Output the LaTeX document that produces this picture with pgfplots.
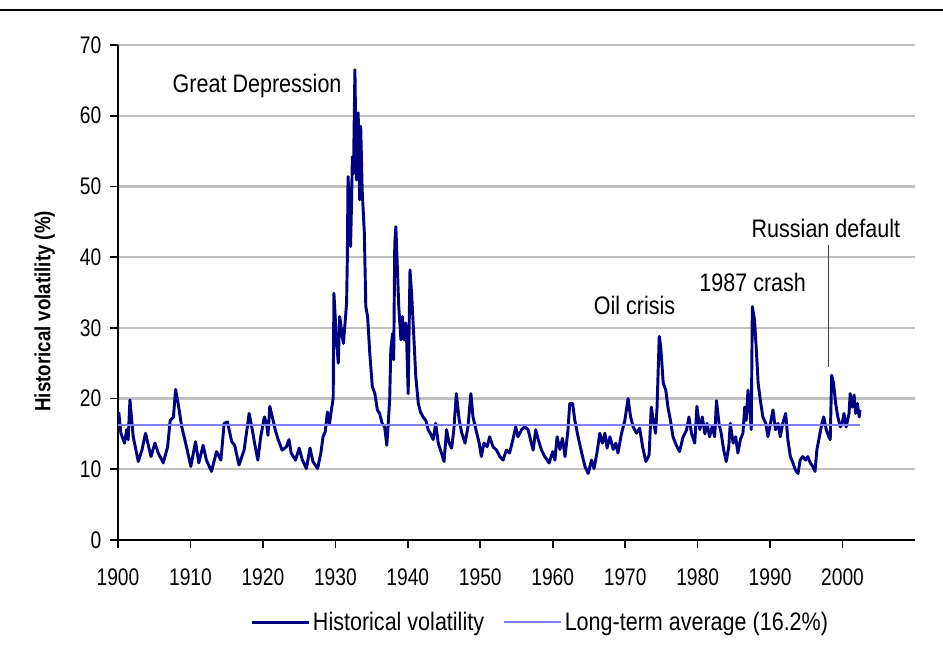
\documentclass[border=0pt]{standalone}
\usepackage{fontspec}
\setmainfont{Liberation Sans}[FakeStretch=0.85]
\newfontfamily\tickfam{Liberation Sans}[FakeStretch=0.8]
\usepackage{pgfplots}
\pgfplotsset{compat=1.18}
\definecolor{volnavy}{RGB}{0,0,128}
\definecolor{avgblue}{RGB}{128,128,255}
\definecolor{gridgray}{RGB}{192,192,192}
\newcommand{\tickfont}{\tickfam\fontsize{18pt}{20pt}\selectfont}
\newcommand{\annfont}{\fontsize{19pt}{22pt}\selectfont}
\newcommand{\labfont}{\fontsize{16.5pt}{19pt}\selectfont}

\begin{document}
\begin{tikzpicture}
\useasboundingbox (-88.5pt,-82.5pt) rectangle (618.75pt,405pt);
\draw[line width=1.5pt] (-88.5pt,397.5pt) -- (618.75pt,397.5pt);
\begin{axis}[
    scale only axis,
    width=597.75pt, height=371.25pt,
    at={(0,0)}, anchor=south west,
    xmin=1900, xmax=2010,
    ymin=0, ymax=70,
    xtick={1900,1910,...,2000},
    ytick={0,10,...,70},
    axis x line*=bottom, axis y line*=left,
    axis line style={-, line width=1.5pt, black},
    tick align=outside,
    major tick length=6pt,
    tick style={black, line width=1.2pt},
    ymajorgrids=true,
    grid style={gridgray, line width=1.8pt},
    /pgf/number format/assume math mode=true,
    x tick label style={font=\tickfont, /pgf/number format/1000 sep={}, yshift=-12pt},
    y tick label style={font=\tickfont, xshift=-3pt},
    ylabel={\bfseries Historical volatility (\%)},
    ylabel style={font=\labfont, at={(axis description cs:-0.092,0.462)}, anchor=center},
    clip=false,
    legend columns=2,
    legend style={
        draw=none, fill=none,
        at={(axis description cs:0.53,-0.166)}, anchor=center,
        font=\annfont,
        /tikz/every even column/.append style={column sep=12pt},
    },
    legend image code/.code={\draw[#1] (0pt,0pt) -- (43pt,0pt);},
]

% historical volatility
\addplot[volnavy, line width=2.2pt, line join=round] coordinates {
(1900.1,18.1)(1900.4,15.1)(1900.9,13.7)(1901.2,15.6)(1901.4,14.2)(1901.65,19.8)
(1902.1,14.6)(1902.8,11.1)(1903.3,12.7)(1903.8,15.1)(1904.55,11.8)(1905.1,13.7)
(1905.55,12.3)(1906.25,10.9)(1906.85,13.2)(1907.2,16.9)(1907.65,17.4)(1907.95,21.3)
(1908.3,19.3)(1908.8,16.0)(1909.45,13.2)(1910.05,10.4)(1910.7,13.9)(1911.15,10.9)
(1911.75,13.4)(1912.2,11.3)(1912.9,9.7)(1913.6,12.5)(1914.2,11.3)(1914.65,16.5)
(1915.1,16.7)(1915.7,13.9)(1916.1,13.4)(1916.7,10.6)(1917.4,12.7)(1918.1,17.9)
(1918.5,15.8)(1918.85,13.7)(1919.3,11.3)(1919.7,14.6)(1920.2,17.4)(1920.5,16.5)
(1920.7,14.8)(1920.95,18.9)(1921.3,17.4)(1921.7,15.6)(1922.1,14.2)(1922.65,12.7)
(1923.25,13.2)(1923.6,14.2)(1923.9,12.3)(1924.5,11.3)(1925.0,13.0)(1925.45,11.3)
(1926.0,10.1)(1926.5,13.0)(1926.9,11.1)(1927.55,10.1)(1928.0,12.3)(1928.3,14.6)
(1928.6,15.3)(1928.9,18.1)(1929.2,16.5)(1929.45,18.4)(1929.7,20.0)(1929.8,34.9)
(1930.15,28.3)(1930.4,25.0)(1930.6,31.6)(1930.85,29.7)(1931.1,27.8)(1931.3,30.2)
(1931.55,33.5)(1931.65,39.6)(1931.75,51.4)(1931.95,47.1)(1932.1,41.5)(1932.2,46.2)
(1932.35,54.2)(1932.5,51.8)(1932.7,66.5)(1932.9,50.9)(1933.15,60.4)(1933.35,48.1)
(1933.5,58.5)(1933.7,49.5)(1934.0,43.4)(1934.2,33.0)(1934.45,31.6)(1934.75,26.4)
(1935.1,21.7)(1935.45,20.7)(1935.8,18.4)(1936.1,17.9)(1936.45,16.5)(1936.8,16.0)
(1937.1,13.4)(1937.3,16.5)(1937.5,20.0)(1937.65,26.9)(1937.9,29.2)(1938.05,25.5)
(1938.2,42.0)(1938.35,44.3)(1938.55,38.7)(1938.75,33.0)(1939.05,28.3)(1939.25,31.6)
(1939.5,28.3)(1939.7,30.7)(1939.85,27.8)(1940.05,20.7)(1940.3,38.2)(1940.55,34.4)
(1940.85,28.3)(1941.1,23.1)(1941.45,19.3)(1941.75,18.1)(1942.1,17.4)(1942.5,16.9)
(1942.8,15.6)(1943.1,15.1)(1943.5,14.2)(1943.85,16.5)(1944.2,13.7)(1944.65,12.3)
(1945.0,11.1)(1945.35,15.6)(1945.7,13.7)(1946.05,13.0)(1946.35,15.6)(1946.7,20.7)
(1947.1,16.9)(1947.45,15.1)(1947.9,13.7)(1948.3,16.0)(1948.7,20.7)(1949.0,17.4)
(1949.4,15.6)(1949.85,13.7)(1950.15,11.8)(1950.5,13.7)(1950.95,13.2)(1951.3,14.6)
(1951.75,13.2)(1952.25,12.7)(1952.7,11.8)(1953.15,11.3)(1953.6,12.7)(1954.05,12.3)
(1954.5,14.2)(1954.9,16.0)(1955.2,14.6)(1955.7,15.6)(1956.15,16.0)(1956.6,15.6)
(1957.05,13.7)(1957.3,12.7)(1957.65,15.6)(1958.0,14.2)(1958.45,12.7)(1958.9,11.8)
(1959.5,10.9)(1960.0,12.5)(1960.3,11.3)(1960.6,14.6)(1961.0,12.8)(1961.35,14.4)
(1961.7,11.8)(1962.1,15.5)(1962.35,19.3)(1962.75,19.3)(1963.05,16.9)(1963.5,14.6)
(1964.0,12.3)(1964.45,10.4)(1964.9,9.4)(1965.35,11.3)(1965.7,10.1)(1966.1,12.3)
(1966.5,15.1)(1966.85,13.7)(1967.2,15.1)(1967.5,13.0)(1967.9,14.6)(1968.35,12.8)
(1968.7,13.7)(1969.0,12.3)(1969.5,15.1)(1969.95,16.9)(1970.4,20.0)(1970.75,17.4)
(1971.1,16.0)(1971.55,15.1)(1972.0,15.8)(1972.4,13.2)(1972.85,11.1)(1973.3,12.0)
(1973.6,18.8)(1973.95,16.5)(1974.2,15.1)(1974.4,18.8)(1974.7,28.8)(1974.9,27.4)
(1975.25,22.2)(1975.6,21.2)(1975.9,18.8)(1976.25,16.9)(1976.6,14.6)(1977.05,13.4)
(1977.5,12.5)(1978.0,14.6)(1978.45,15.5)(1978.8,17.4)(1979.15,15.1)(1979.6,13.7)
(1979.9,18.9)(1980.3,15.6)(1980.65,17.4)(1981.0,15.0)(1981.3,16.5)(1981.65,14.6)
(1982.0,16.0)(1982.35,14.6)(1982.6,19.7)(1982.95,16.5)(1983.25,15.1)(1983.6,12.7)
(1983.95,11.1)(1984.3,13.2)(1984.5,16.5)(1984.9,13.7)(1985.25,14.6)(1985.55,12.3)
(1985.9,14.2)(1986.25,15.1)(1986.5,18.8)(1986.7,16.9)(1986.95,21.2)(1987.2,18.4)
(1987.4,15.6)(1987.55,33.0)(1987.85,31.1)(1988.1,26.9)(1988.35,22.2)(1988.65,19.8)
(1989.0,17.4)(1989.4,16.5)(1989.7,14.6)(1990.05,16.5)(1990.4,18.4)(1990.75,15.6)
(1991.1,16.5)(1991.4,14.6)(1991.75,16.5)(1992.15,17.9)(1992.45,14.2)(1992.8,11.8)
(1993.15,10.9)(1993.5,9.9)(1993.85,9.4)(1994.15,11.3)(1994.5,11.8)(1994.9,11.3)
(1995.2,11.8)(1995.55,10.9)(1995.9,10.4)(1996.2,9.7)(1996.45,12.7)(1996.8,14.6)
(1997.15,16.5)(1997.4,17.4)(1997.75,15.6)(1998.1,14.6)(1998.3,14.2)(1998.5,23.3)
(1998.75,22.2)(1999.05,19.3)(1999.35,17.4)(1999.7,16.0)(1999.95,16.5)(2000.2,17.9)
(2000.5,16.0)(2000.9,17.9)(2001.05,20.7)(2001.35,18.8)(2001.6,20.5)(2001.8,17.9)
(2002.05,19.3)(2002.3,17.4)(2002.4,18.4)
};
\addlegendentry{Historical volatility}

% long-term average
\addplot[avgblue, line width=1.5pt] coordinates {(1900,16.2)(2002.4,16.2)};
\addlegendentry{Long-term average (16.2\%)}

\node[font=\annfont] at (axis cs:1919.2,64.2) {Great Depression};
\node[font=\annfont] at (axis cs:1971.3,33.1) {Oil crisis};
\node[font=\annfont] at (axis cs:1987.6,36.4) {1987 crash};
\node[font=\annfont] at (axis cs:1997.7,44.0) {Russian default};
\draw[black!75, line width=0.8pt] (axis cs:1998.1,41.7) -- (axis cs:1998.1,24.5);
\end{axis}
\end{tikzpicture}
\end{document}
